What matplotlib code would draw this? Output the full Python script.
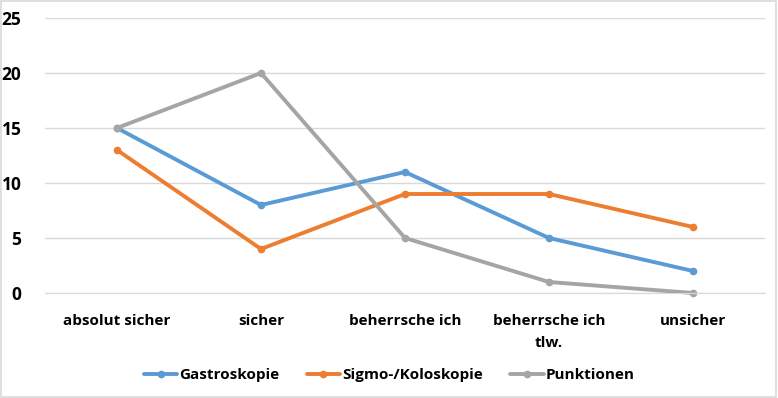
import matplotlib.pyplot as plt
import numpy as np

# Data
categories = ['absolut sicher', 'sicher', 'beherrsche ich', 'beherrsche ich\ntlw.', 'unsicher']
gastroskopie = [15, 8, 11, 5, 2]
koloskopie = [13, 4, 9, 9, 6]
punktionen = [15, 20, 5, 1, 0]
series_names = ['Gastroskopie', 'Sigmo-/Koloskopie', 'Punktionen']
colors = ['#5B9BD5', '#ED7D31', '#A5A5A5']

plt.rcParams['font.family'] = ['Open Sans', 'DejaVu Sans']
plt.rcParams['font.weight'] = 'bold'

fig = plt.figure(figsize=(7.78, 3.98), dpi=100)
ax = fig.add_axes([45 / 778, 1 - 293 / 398, 720 / 778, 275 / 398])

x = np.arange(len(categories))
for vals, name, c in zip([gastroskopie, koloskopie, punktionen], series_names, colors):
    ax.plot(x, vals, color=c, linewidth=2.8, marker='o', markersize=4.5, label=name,
            solid_capstyle='round', clip_on=False)

ax.set_xlim(-0.5, len(categories) - 0.5)
ax.set_ylim(0, 25)
ax.set_yticks(range(0, 26, 5))
ax.set_xticks(x)
ax.set_xticklabels(categories, fontsize=11, fontweight='bold', linespacing=1.7)
ax.tick_params(axis='y', labelsize=12.5, length=0, pad=17)
ax.tick_params(axis='x', length=0, pad=15)
ax.grid(axis='y', color='#D9D9D9', linewidth=1)
ax.set_axisbelow(True)
for s in ['top', 'right', 'left']:
    ax.spines[s].set_visible(False)
ax.spines['bottom'].set_color('#D9D9D9')
for lbl in ax.get_yticklabels():
    lbl.set_fontweight('bold')

fig.legend(loc='center', bbox_to_anchor=(0.5, 1 - 375 / 398), ncol=3, frameon=False,
           prop={'size': 11, 'weight': 'bold'}, handlelength=2.2, handletextpad=0.1,
           columnspacing=1.8)

# border around the chart
fig.patches.append(plt.Rectangle((0.001, 0.002), 0.997, 0.996, transform=fig.transFigure,
                                 fill=False, edgecolor='#D9D9D9', linewidth=1.2))

fig.savefig('out.png', dpi=100)
